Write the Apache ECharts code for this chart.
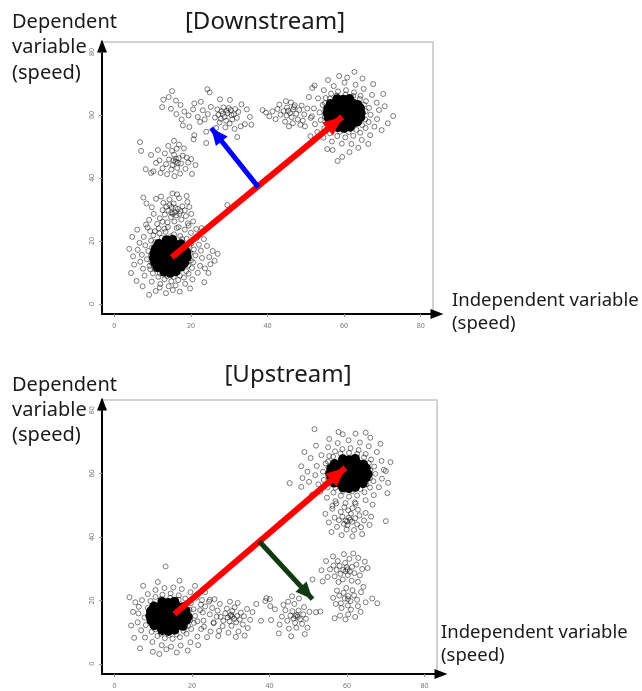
<!DOCTYPE html>
<html><head><meta charset="utf-8">
<script src="https://cdn.jsdelivr.net/npm/echarts@6/dist/echarts.min.js"></script>
<style>html,body{margin:0;padding:0;background:#fff}#c{width:642px;height:691px}</style>
</head><body><div id="c"></div>
<script>
const tickValues = [0, 20, 40, 60, 80];
const axisMin = -3.2, axisMax = 83.2;

// ---------- Downstream ----------
const downCoreA = [[13.0,10.2],[14.6,9.8],[16.1,10.3],[11.3,11.6],[12.8,11.4],[14.3,11.7],[15.9,11.3],[17.4,11.8],[10.6,13.1],[12.1,12.9],[13.7,13.2],[15.2,12.8],[16.8,13.1],[18.3,13.0],[10.3,14.6],[11.8,14.4],[13.3,14.7],[14.8,14.3],[16.4,14.6],[17.9,14.4],[19.0,14.8],[10.4,16.1],[11.9,15.9],[13.5,16.2],[15.0,15.8],[16.5,16.1],[18.0,15.9],[18.9,16.3],[10.8,17.6],[12.3,17.4],[13.8,17.7],[15.4,17.3],[16.9,17.6],[18.3,17.5],[11.6,19.1],[13.1,18.9],[14.6,19.2],[16.1,18.8],[17.4,19.0],[13.6,20.3],[15.2,20.4]];
const downCoreB = [[58.4,56.1],[60.0,55.8],[61.6,56.2],[56.6,57.6],[58.1,57.4],[59.6,57.7],[61.1,57.3],[62.6,57.6],[63.5,57.9],[55.9,59.1],[57.4,58.9],[58.9,59.2],[60.4,58.8],[61.9,59.1],[63.4,59.0],[64.3,59.3],[55.6,60.6],[57.1,60.4],[58.6,60.7],[60.1,60.3],[61.6,60.6],[63.1,60.4],[64.4,60.7],[55.8,62.1],[57.3,61.9],[58.8,62.2],[60.3,61.8],[61.8,62.1],[63.3,61.9],[64.2,62.2],[56.5,63.6],[58.0,63.4],[59.5,63.7],[61.0,63.3],[62.5,63.6],[63.5,63.3],[58.2,65.1],[59.8,64.9],[61.4,65.2]];
const downHaloA = [[8.5,14.2],[8.9,16.8],[9.2,12.1],[8.1,18.6],[9.6,20.1],[10.2,21.8],[11.8,22.4],[13.4,22.9],[15.6,22.1],[17.2,21.6],[18.9,20.7],[20.1,19.2],[20.8,17.3],[21.2,15.4],[20.6,13.2],[20.3,11.4],[19.4,9.6],[18.2,8.4],[16.7,7.6],[14.9,7.2],[13.1,7.8],[11.5,8.6],[10.1,9.7],[9.4,11.0],[7.2,15.6],[6.8,13.4],[7.5,11.2],[7.9,9.0],[9.8,7.1],[12.0,6.3],[14.2,5.6],[16.0,5.9],[18.5,6.4],[20.4,7.8],[21.8,9.9],[22.4,12.1],[22.9,14.6],[22.6,16.9],[22.1,18.8],[21.5,21.0],[20.0,22.6],[18.4,23.6],[16.3,24.1],[14.0,24.4],[11.6,24.0],[9.4,23.1],[7.7,21.3],[6.6,19.4],[6.1,17.2],[4.4,9.8],[9.1,2.9],[27.0,15.9],[21.4,23.8],[4.7,21.3],[5.2,12.5],[5.8,7.3],[7.4,5.6],[10.8,4.1],[13.5,3.4],[17.1,3.9],[19.8,4.9],[23.5,6.9],[24.6,9.8],[25.1,12.6],[24.8,14.9],[24.2,18.4],[23.4,20.6],[22.8,24.1],[19.2,25.6],[12.6,26.1],[8.3,25.2],[6.0,23.6],[3.9,17.5],[4.9,15.1],[26.2,13.7],[25.7,16.8],[23.7,11.3],[15.3,4.4],[11.9,5.2],[9.6,15.3],[9.9,17.9],[10.7,19.6],[12.4,21.0],[14.8,21.5],[17.7,20.6],[19.6,18.4],[19.9,16.2],[20.0,13.8],[19.3,12.2],[18.8,10.4],[17.1,9.0],[15.5,8.6],[13.8,8.9],[11.9,9.7],[10.5,11.2],[9.7,13.1]];
const downClusterLow = [[13.2,28.4],[14.1,29.6],[15.0,30.8],[15.8,29.1],[16.6,30.2],[17.3,29.4],[16.2,28.1],[14.8,27.6],[15.5,31.9],[13.6,30.9],[17.8,31.0],[18.4,29.7],[12.6,29.8],[11.9,27.2],[12.8,32.1],[14.4,33.2],[16.9,33.6],[19.1,32.4],[19.6,30.8],[18.7,27.9],[17.5,26.8],[15.7,26.2],[13.9,25.9],[11.2,25.4],[10.3,28.6],[9.8,30.7],[8.4,31.9],[7.6,33.8],[10.9,33.4],[12.2,34.1],[15.2,35.1],[16.4,34.8],[18.9,34.3],[20.1,28.6],[20.6,26.2],[19.4,24.9],[9.1,26.7],[8.7,24.3],[10.6,23.1],[13.1,23.9],[16.8,24.4],[14.9,29.0],[16.0,30.5],[15.3,28.6],[14.4,31.4],[17.0,28.6]];
const downClusterMid = [[16.0,45.2],[15.2,44.1],[16.8,46.3],[15.6,47.4],[14.3,45.9],[17.4,44.6],[16.4,43.2],[14.9,42.7],[13.5,44.4],[17.9,47.1],[15.1,48.6],[16.3,49.3],[13.2,47.8],[12.6,43.1],[11.8,45.6],[10.9,44.8],[12.1,41.6],[13.8,41.2],[15.7,40.6],[17.2,41.4],[18.6,42.9],[19.3,44.9],[18.9,46.5],[20.1,46.0],[21.2,44.1],[18.2,49.4],[16.9,50.6],[15.6,51.8],[14.1,50.2],[11.4,48.9],[9.6,47.3],[8.2,42.8],[6.7,51.4],[10.2,42.1],[20.3,41.3],[16.1,46.1],[15.4,45.6],[16.6,44.8]];
const downClusterTop = [[27.2,60.1],[28.0,61.2],[28.8,59.4],[29.6,60.6],[30.4,61.6],[31.2,60.2],[32.0,59.1],[29.2,58.2],[27.8,58.8],[30.8,58.6],[28.5,62.4],[29.9,62.2],[31.6,61.9],[26.9,61.8],[27.5,57.6],[30.1,57.3],[32.4,61.0],[26.3,59.2],[29.4,61.4],[28.3,60.4],[30.6,60.0],[25.2,62.6],[24.4,60.3],[23.1,61.5],[21.8,59.4],[22.4,57.8],[20.6,61.8],[19.4,59.9],[18.3,61.1],[17.6,58.6],[16.2,60.3],[14.8,62.0],[12.8,64.9],[14.2,65.7],[16.1,64.6],[17.3,63.2],[20.9,63.7],[22.6,64.2],[24.9,67.2],[27.6,65.0],[30.2,64.8],[33.2,63.4],[34.6,61.8],[35.4,59.4],[34.1,57.1],[33.0,56.4],[31.4,55.6],[29.0,56.1],[26.6,55.9],[24.0,54.7],[20.7,52.3],[17.9,56.7],[19.6,56.2],[35.8,56.9],[23.6,58.6]];
const downClusterRight = [[44.2,61.3],[45.1,62.4],[45.9,60.6],[46.7,61.8],[47.5,60.4],[48.3,61.6],[46.3,59.3],[45.0,59.8],[47.1,63.1],[48.9,63.0],[49.6,60.2],[43.4,60.1],[42.6,61.9],[41.3,61.2],[43.1,63.3],[44.8,64.4],[46.1,64.0],[47.9,58.6],[46.6,57.4],[44.6,57.9],[49.2,58.2],[50.4,62.1],[38.7,61.6],[39.6,60.8],[40.5,59.6],[42.1,58.7],[45.6,56.4],[48.6,56.9],[51.3,59.1],[51.7,68.6],[46.9,62.5],[45.4,61.4]];
const downHaloB = [[53.6,60.8],[53.9,58.4],[54.4,63.2],[55.2,65.4],[56.6,66.8],[58.4,67.5],[60.5,67.9],[62.6,67.2],[64.3,66.1],[65.7,64.4],[66.5,62.3],[66.9,60.1],[66.4,57.8],[65.6,55.9],[64.2,54.4],[62.4,53.4],[60.3,52.9],[58.2,53.3],[56.3,54.2],[54.8,55.8],[52.1,62.1],[51.6,59.6],[52.4,57.1],[53.2,65.3],[54.7,67.9],[57.3,69.2],[60.1,70.3],[63.0,69.6],[65.1,68.3],[67.3,66.4],[68.5,63.9],[69.1,61.6],[68.6,58.7],[67.9,56.3],[66.8,53.6],[64.6,52.1],[61.9,50.8],[59.4,50.9],[56.8,51.6],[54.6,52.8],[53.0,54.6],[62.7,73.7],[72.8,59.7],[70.6,62.8],[71.4,57.4],[69.8,55.2],[70.2,66.7],[67.6,69.8],[64.8,71.6],[58.7,72.4],[55.8,71.1],[52.3,69.4],[50.8,65.7],[49.8,56.4],[51.2,53.3],[58.3,45.4],[57.0,48.9],[59.5,46.7],[61.4,48.2],[63.7,49.6],[55.6,49.2],[66.3,50.8],[60.8,71.9],[55.1,61.6],[55.0,59.4],[55.6,57.4],[56.9,55.7],[58.9,54.7],[61.2,54.6],[63.2,55.3],[64.7,56.8],[65.5,58.6],[65.6,61.2],[65.2,63.3],[64.1,65.1],[62.4,66.1],[60.4,66.5],[58.1,66.2],[56.3,65.2],[55.0,63.8]];
const downStray = [[24.0,51.1],[20.9,53.6],[32.1,53.0],[15.1,67.6],[24.3,68.2],[12.5,62.5],[7.0,48.6],[9.6,41.6],[29.5,31.4]];
const downMainArrow = [[15.0, 14.8], [59.5, 59.4]];
const downSideArrow = [[37.6, 37.1], [25.3, 55.9]];

// ---------- Upstream ----------
const upCoreA = [[12.3,10.6],[13.9,10.3],[15.5,10.7],[10.3,12.1],[11.8,11.9],[13.3,12.2],[14.8,11.8],[16.3,12.1],[17.7,11.9],[9.5,13.6],[11.0,13.4],[12.5,13.7],[14.0,13.3],[15.5,13.6],[17.0,13.4],[18.5,13.7],[9.2,15.1],[10.7,14.9],[12.2,15.2],[13.7,14.8],[15.2,15.1],[16.7,14.9],[18.2,15.2],[19.0,14.8],[9.4,16.6],[10.9,16.4],[12.4,16.7],[13.9,16.3],[15.4,16.6],[16.9,16.4],[18.4,16.7],[10.2,18.1],[11.7,17.9],[13.2,18.2],[14.7,17.8],[16.2,18.1],[17.7,17.9],[12.3,19.6],[13.9,19.3],[15.5,19.7]];
const upCoreB = [[58.9,55.6],[60.5,55.3],[62.1,55.7],[56.7,57.1],[58.2,56.9],[59.7,57.2],[61.2,56.8],[62.7,57.1],[64.1,56.9],[55.9,58.6],[57.4,58.4],[58.9,58.7],[60.4,58.3],[61.9,58.6],[63.4,58.4],[64.9,58.7],[55.6,60.1],[57.1,59.9],[58.6,60.2],[60.1,59.8],[61.6,60.1],[63.1,59.9],[64.6,60.2],[65.4,59.8],[55.9,61.6],[57.4,61.4],[58.9,61.7],[60.4,61.3],[61.9,61.6],[63.4,61.4],[64.9,61.7],[56.8,63.1],[58.3,62.9],[59.8,63.2],[61.3,62.8],[62.8,63.1],[64.2,62.9],[58.9,64.6],[60.5,64.3],[62.1,64.7]];
const upHaloA = [[7.8,14.6],[8.1,12.2],[8.6,17.6],[9.3,19.8],[10.6,21.1],[12.4,21.8],[14.5,22.2],[16.6,21.6],[18.3,20.6],[19.7,19.1],[20.4,17.2],[20.8,15.1],[20.5,12.9],[19.8,11.0],[18.6,9.5],[16.9,8.4],[15.0,7.9],[13.0,8.1],[11.1,8.8],[9.6,10.1],[6.2,15.9],[6.0,13.1],[6.9,10.6],[7.9,8.3],[9.8,6.9],[12.2,5.9],[14.6,5.4],[17.1,5.8],[19.6,6.8],[21.4,8.6],[22.4,11.0],[23.0,13.6],[22.8,16.2],[22.3,18.7],[21.2,20.9],[19.6,22.6],[17.4,23.6],[15.2,24.1],[12.9,23.9],[10.6,23.3],[8.6,22.0],[7.1,20.1],[6.3,18.0],[3.9,21.0],[4.3,12.1],[5.1,8.2],[6.6,4.9],[9.9,3.8],[11.6,3.1],[13.4,4.6],[16.1,3.6],[18.9,4.2],[21.6,5.9],[23.9,8.4],[24.8,10.2],[25.6,12.8],[26.4,14.9],[25.2,17.6],[24.6,20.2],[23.4,22.6],[20.8,24.6],[13.2,30.7],[16.8,26.2],[11.2,25.8],[7.4,24.6],[5.4,19.4],[4.8,16.4],[9.1,14.0],[9.4,16.8],[10.2,18.9],[12.0,20.4],[14.4,20.8],[16.6,20.2],[18.6,19.0],[19.4,17.0],[19.6,13.8],[19.0,12.0],[17.8,10.4],[16.0,9.3],[14.0,9.1],[12.0,9.5],[10.5,10.9],[9.6,12.4]];
const upClusterLeft = [[29.2,14.6],[30.1,15.5],[30.9,14.2],[31.7,15.1],[29.7,13.4],[28.6,15.9],[30.4,16.7],[31.4,13.1],[32.3,14.0],[28.1,13.6],[27.4,14.8],[32.6,16.1],[29.0,17.4],[31.0,17.8],[33.4,15.0],[33.1,12.4],[30.2,12.0],[27.9,11.9],[26.6,16.8],[27.2,18.9],[29.8,19.6],[31.8,19.2],[34.2,17.3],[35.0,13.9],[34.4,11.3],[32.0,10.2],[29.4,9.8],[27.0,10.4],[25.6,13.1],[35.6,16.3],[22.1,16.9],[23.4,18.1],[24.6,15.6],[21.4,13.4],[23.1,11.7],[24.4,19.6],[25.8,20.4],[22.6,20.1],[36.6,18.9],[37.8,13.6],[26.8,8.8],[31.3,8.5],[33.6,8.9],[30.4,14.9],[29.9,15.2]];
const upClusterMid = [[46.2,14.3],[47.1,15.4],[47.9,14.1],[46.6,12.9],[45.4,15.2],[48.7,15.6],[47.5,16.8],[45.9,16.6],[44.6,13.6],[48.4,12.6],[49.4,14.2],[46.9,11.4],[44.1,16.9],[43.2,14.9],[45.0,11.1],[48.9,17.9],[46.4,18.9],[44.8,19.6],[49.8,11.4],[50.3,16.4],[42.6,12.4],[41.4,17.2],[43.6,18.6],[47.6,20.6],[45.8,21.3],[49.1,9.4],[45.6,8.7],[42.4,9.6],[40.4,13.8],[52.0,16.3],[53.1,16.5],[38.9,19.8],[40.1,20.4],[47.3,14.8],[46.7,15.1]];
const upHaloB = [[53.8,60.6],[54.0,58.0],[54.5,63.2],[55.4,65.5],[56.9,67.0],[58.8,67.7],[60.9,68.0],[63.0,67.4],[64.8,66.2],[66.2,64.4],[67.0,62.2],[67.3,59.9],[66.8,57.6],[65.9,55.6],[64.5,54.1],[62.6,53.1],[60.5,52.7],[58.4,53.0],[56.5,54.0],[55.0,55.7],[52.2,62.4],[51.8,59.5],[52.6,56.6],[53.4,65.8],[55.1,68.3],[57.6,69.6],[60.4,70.5],[63.3,69.8],[65.6,68.6],[67.7,66.8],[68.9,64.0],[69.5,61.2],[69.0,58.4],[68.2,55.7],[66.9,53.2],[64.8,51.6],[62.2,50.5],[59.6,50.7],[57.0,51.3],[54.8,52.4],[53.1,54.3],[51.6,74.0],[70.0,60.8],[71.2,63.6],[70.6,57.1],[70.4,53.8],[68.6,69.4],[66.0,71.3],[62.2,72.6],[58.9,72.4],[55.4,70.9],[52.0,68.8],[50.6,64.9],[49.8,60.6],[50.2,57.4],[51.0,53.4],[49.0,66.8],[48.2,62.3],[57.8,73.1],[64.8,72.9],[66.6,50.2],[61.4,49.1],[56.2,49.8],[55.2,61.9],[55.1,59.3],[55.6,57.3],[57.0,55.6],[59.0,54.5],[61.3,54.4],[63.4,55.1],[65.0,56.6],[65.9,58.5],[66.0,61.1],[65.6,63.3],[64.4,65.1],[62.6,66.2],[60.5,66.5],[58.3,66.3],[56.4,65.3],[55.1,63.8]];
const upClusterHigh = [[59.6,45.2],[60.5,46.1],[61.3,44.8],[60.1,43.7],[58.8,46.4],[62.1,45.9],[61.0,47.3],[59.2,44.1],[57.9,45.3],[62.6,44.0],[63.2,46.8],[60.3,48.4],[58.4,47.9],[56.8,46.1],[57.4,43.2],[59.9,42.4],[61.8,42.2],[63.6,43.1],[64.4,45.2],[64.8,47.6],[62.8,48.6],[59.3,49.4],[56.2,48.9],[55.3,44.6],[54.4,47.3],[56.0,41.6],[58.6,40.6],[61.4,40.2],[63.9,40.9],[65.8,43.8],[66.2,46.4],[70.0,45.0],[57.2,50.6],[62.0,50.9],[60.8,45.4],[60.0,44.9]];
const upClusterRight = [[59.0,29.6],[59.9,30.5],[60.7,29.1],[58.3,28.4],[58.1,30.9],[61.3,30.6],[60.2,28.0],[57.3,29.6],[61.9,28.6],[59.5,31.8],[62.4,31.3],[57.6,32.4],[60.6,33.1],[62.9,33.4],[56.5,31.0],[55.6,29.8],[56.8,27.6],[58.9,26.6],[61.2,26.2],[63.3,27.9],[63.9,29.9],[64.6,32.2],[65.3,30.2],[61.6,34.8],[59.2,34.6],[56.4,33.9],[54.6,32.4],[55.0,27.4],[57.8,25.8],[62.8,25.9],[53.7,26.0],[53.4,29.5],[59.6,29.2],[60.1,29.8]];
const upClusterLow = [[59.4,20.6],[60.3,21.4],[60.9,19.8],[59.1,22.4],[58.4,19.1],[61.8,21.6],[60.2,18.4],[58.0,21.5],[62.6,20.2],[61.4,23.2],[59.8,23.9],[57.4,23.1],[62.8,18.2],[61.0,17.1],[58.6,17.6],[57.1,18.9],[63.6,22.6],[64.8,19.4],[66.5,20.6],[67.8,19.1],[63.5,16.4],[60.3,15.6],[58.2,15.2],[56.8,14.4],[59.6,14.0],[62.1,14.8],[56.4,20.8],[64.2,24.3],[60.2,20.4]];
const upStray = [[51.1,26.6],[45.2,57.0],[48.5,58.6],[48.2,55.8],[39.2,20.7],[40.2,18.2]];
const upMainArrow = [[15.5, 15.7], [59.6, 61.8]];
const upSideArrow = [[37.4, 38.6], [51.1, 20.4]];

const downDense = downCoreA.concat(downCoreB);
const downPoints = downHaloA.concat(downClusterLow, downClusterMid, downClusterTop, downClusterRight, downHaloB, downStray);
const upDense = upCoreA.concat(upCoreB);
const upPoints = upHaloA.concat(upClusterLeft, upClusterMid, upHaloB, upClusterHigh, upClusterRight, upClusterLow, upStray);

const FONT = 'Noto Sans';
const chart = echarts.init(document.getElementById('c'), null, {renderer: 'canvas'});

function makeAxis(gridIndex, isY) {
  return {
    type: 'value', gridIndex: gridIndex, min: axisMin, max: axisMax,
    splitLine: {show: false},
    axisLine: {show: true, onZero: false, lineStyle: {color: '#000', width: 2},
      symbol: ['none', 'triangle'], symbolSize: [10, 13], symbolOffset: [0, isY ? -4 : 4]},
    axisTick: {show: true, customValues: tickValues, length: 3, lineStyle: {color: '#999', width: 1}},
    axisLabel: {customValues: tickValues, fontSize: 7, color: '#777', margin: isY ? 7 : 8, fontFamily: FONT, rotate: isY ? 90 : 0}
  };
}
function hollow(data, gi) {
  return {type: 'scatter', xAxisIndex: gi, yAxisIndex: gi, data: data, symbol: 'circle', symbolSize: 5,
    itemStyle: {color: 'rgba(255,255,255,0)', borderColor: 'rgba(0,0,0,0.5)', borderWidth: 1, opacity: 1},
    emphasis: {disabled: true}, silent: true, animation: false, z: 2};
}
function dense(data, gi) {
  return {type: 'scatter', xAxisIndex: gi, yAxisIndex: gi, data: data, symbol: 'circle', symbolSize: 9.5,
    itemStyle: {color: '#000', borderWidth: 0, opacity: 1},
    emphasis: {disabled: true}, silent: true, animation: false, z: 3};
}
function arrow(coords, gi, color, width, size) {
  return {type: 'scatter', xAxisIndex: gi, yAxisIndex: gi, data: [], silent: true, animation: false, z: 5,
    markLine: {silent: true, animation: false, symbol: ['none', 'triangle'], symbolSize: size,
      symbolOffset: [0, [0, size[1] / 2]],
      label: {show: false}, emphasis: {disabled: true},
      lineStyle: {color: color, width: width, type: 'solid', opacity: 1},
      data: [[{coord: coords[0]}, {coord: coords[1]}]]}};
}
function txt(text, x, y, size, align) {
  return {type: 'text', x: x, y: y, silent: true,
    style: {text: text, fontSize: size, fontFamily: FONT, fill: '#1a1a1a',
      align: align, verticalAlign: 'middle', textAlign: align, textVerticalAlign: 'middle'}};
}

chart.setOption({
  animation: false,
  backgroundColor: '#fff',
  grid: [
    {left: 102, top: 42, width: 331, height: 272, show: true, borderColor: '#c4c4c4', borderWidth: 1.5},
    {left: 102, top: 400, width: 335, height: 274, show: true, borderColor: '#c4c4c4', borderWidth: 1.5}
  ],
  xAxis: [makeAxis(0, false), makeAxis(1, false)],
  yAxis: [makeAxis(0, true), makeAxis(1, true)],
  series: [
    hollow(downPoints, 0), dense(downDense, 0),
    arrow(downMainArrow, 0, '#ff0000', 6, [17, 19]),
    arrow(downSideArrow, 0, '#0000ff', 5, [15, 17]),
    hollow(upPoints, 1), dense(upDense, 1),
    arrow(upMainArrow, 1, '#ff0000', 6, [17, 19]),
    arrow(upSideArrow, 1, '#123a12', 5, [15, 17])
  ],
  graphic: [
    txt('[Downstream]', 265, 22, 24, 'center'),
    txt('Dependent', 12, 22, 20, 'left'),
    txt('variable', 12, 47, 20, 'left'),
    txt('(speed)', 12, 73, 20, 'left'),
    txt('Independent variable', 452, 301, 18.5, 'left'),
    txt('(speed)', 452, 324, 18.5, 'left'),
    txt('[Upstream]', 288, 375, 24, 'center'),
    txt('Dependent', 12, 385, 20, 'left'),
    txt('variable', 12, 410, 20, 'left'),
    txt('(speed)', 12, 435, 20, 'left'),
    txt('Independent variable', 441, 633, 18.5, 'left'),
    txt('(speed)', 441, 656, 18.5, 'left')
  ]
});
</script>
</body></html>
